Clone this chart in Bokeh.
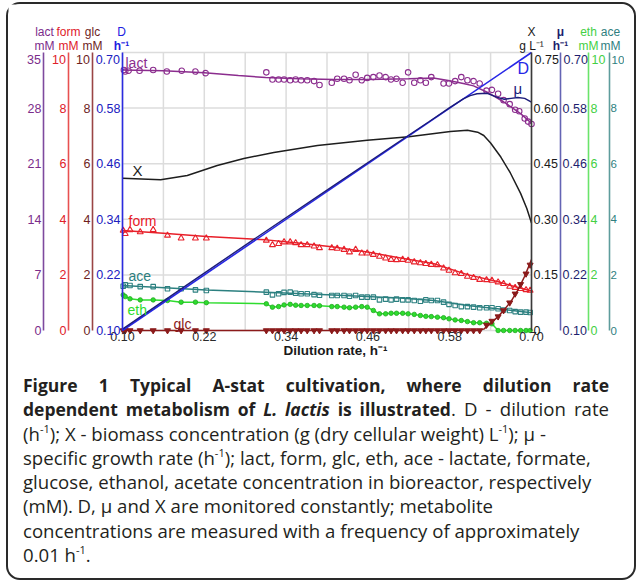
from bokeh.plotting import figure
from bokeh.models import Range1d, LinearAxis, FixedTicker, Label, Div
from bokeh.layouts import column
from bokeh.embed import file_html
from bokeh.resources import INLINE

# ---------------- data ----------------
x_ticks = [0.10, 0.22, 0.34, 0.46, 0.58, 0.70]
x_labels = ["0.10", "0.22", "0.34", "0.46", "0.58", "0.70"]
grid_x = [0.10, 0.16, 0.22, 0.28, 0.34, 0.40, 0.46, 0.52, 0.58, 0.64, 0.70]
D_ticks = [0.10, 0.22, 0.34, 0.46, 0.58, 0.70]
D_labels = ["0.10", "0.22", "0.34", "0.46", "0.58", "0.70"]
X_ticks = [0, 0.15, 0.30, 0.45, 0.60, 0.75]
X_labels = ["0", "0.15", "0.30", "0.45", "0.60", "0.75"]
lact_ticks = [0, 7, 14, 21, 28, 35]
lact_labels = ["0", "7", "14", "21", "28", "35"]
conc_ticks = [0, 2, 4, 6, 8, 10]
conc_labels = ["0", "2", "4", "6", "8", "10"]

# dilution rate (D = x)
D_line = [0.10, 0.70]

# specific growth rate
mu_D = [0.10, 0.20, 0.30, 0.40, 0.50, 0.55, 0.58, 0.60, 0.61, 0.62, 0.635, 0.65, 0.66, 0.67, 0.68, 0.69, 0.70]
mu_val = [0.103, 0.204, 0.304, 0.403, 0.502, 0.551, 0.581, 0.600, 0.607, 0.611, 0.612, 0.603, 0.599, 0.601, 0.603, 0.601, 0.593]

# biomass
X_D = [0.10, 0.156, 0.195, 0.239, 0.278, 0.322, 0.386, 0.459, 0.52, 0.581, 0.606, 0.621, 0.63, 0.64, 0.655, 0.669, 0.684, 0.693, 0.70]
X_val = [0.411, 0.407, 0.418, 0.445, 0.464, 0.480, 0.499, 0.513, 0.523, 0.537, 0.540, 0.535, 0.526, 0.506, 0.468, 0.425, 0.370, 0.330, 0.290]

# lactate (measured + fitted)
lact_D = [0.102, 0.104, 0.109, 0.125, 0.145, 0.165, 0.187, 0.207, 0.222,
          0.311, 0.320, 0.329, 0.337, 0.346, 0.354, 0.362, 0.371, 0.381, 0.389,
          0.407, 0.415, 0.425, 0.433, 0.442, 0.451, 0.459, 0.468, 0.477, 0.486,
          0.494, 0.502, 0.511, 0.519, 0.528, 0.537, 0.545, 0.553, 0.571, 0.579,
          0.588, 0.597, 0.606, 0.615, 0.624, 0.634, 0.642, 0.651, 0.659, 0.668,
          0.676, 0.682, 0.690, 0.695, 0.700]
lact_val = [32.8, 32.6, 32.7, 32.7, 32.8, 32.6, 32.7, 32.6, 32.4,
            32.5, 31.6, 31.6, 31.6, 31.5, 31.6, 31.5, 31.5, 31.4, 30.9,
            31.2, 31.7, 31.7, 31.5, 32.2, 31.5, 31.8, 31.9, 32.1, 31.9,
            31.6, 31.7, 31.2, 32.5, 31.2, 31.5, 31.2, 31.9, 31.1, 31.1,
            31.4, 31.9, 31.5, 31.4, 31.1, 30.2, 30.3, 29.8, 29.0, 28.5,
            27.8, 27.6, 26.7, 26.3, 26.0]
lact_fit_D = [0.10, 0.16, 0.22, 0.27, 0.31, 0.36, 0.41, 0.46, 0.52, 0.556, 0.58, 0.60, 0.615, 0.635, 0.659, 0.684, 0.70]
lact_fit = [32.8, 32.7, 32.45, 32.1, 31.85, 31.7, 31.6, 31.6, 31.7, 31.8, 31.45, 31.1, 30.8, 30.0, 28.8, 27.3, 26.1]

# sampling points of the other metabolites
met_D = [0.101, 0.104, 0.111, 0.126, 0.145, 0.166, 0.186, 0.207, 0.223,
         0.311, 0.320, 0.329, 0.337, 0.346, 0.354, 0.362, 0.371, 0.381, 0.389,
         0.407, 0.415, 0.425, 0.433, 0.442, 0.451, 0.459, 0.468, 0.477, 0.486,
         0.494, 0.502, 0.511, 0.519, 0.528, 0.537, 0.545, 0.553, 0.562, 0.571,
         0.579, 0.588, 0.597, 0.606, 0.615, 0.624, 0.634, 0.642, 0.651, 0.659,
         0.668, 0.676, 0.684, 0.692, 0.698]
form_val = [3.60, 3.48, 3.62, 3.54, 3.62, 3.42, 3.32, 3.32, 3.32,
            3.24, 3.08, 3.12, 3.18, 3.18, 3.15, 3.08, 3.08, 3.03, 2.97,
            2.97, 2.95, 2.91, 2.82, 2.91, 2.78, 2.78, 2.73, 2.66, 2.60,
            2.55, 2.54, 2.55, 2.52, 2.46, 2.43, 2.40, 2.37, 2.36, 2.24,
            2.16, 2.07, 2.04, 1.94, 1.90, 1.83, 1.82, 1.80, 1.74, 1.68,
            1.58, 1.54, 1.50, 1.46, 1.44]
form_fit_D = [0.10, 0.16, 0.223, 0.311, 0.361, 0.41, 0.459, 0.51, 0.557, 0.606, 0.65, 0.675, 0.70]
form_fit = [3.60, 3.50, 3.38, 3.26, 3.14, 3.00, 2.82, 2.60, 2.40, 2.01, 1.76, 1.58, 1.42]

ace_val = [1.59, 1.64, 1.62, 1.58, 1.58, 1.50, 1.50, 1.46, 1.44,
           1.38, 1.28, 1.32, 1.37, 1.38, 1.34, 1.32, 1.32, 1.29, 1.27,
           1.26, 1.26, 1.26, 1.23, 1.26, 1.20, 1.20, 1.20, 1.10, 1.13,
           1.10, 1.13, 1.10, 1.10, 1.08, 1.05, 1.10, 1.08, 1.08, 1.02,
           0.94, 0.90, 0.86, 0.86, 0.84, 0.82, 0.82, 0.82, 0.78, 0.74,
           0.72, 0.68, 0.66, 0.66, 0.65]
ace_fit_D = [0.10, 0.223, 0.311, 0.409, 0.507, 0.557, 0.606, 0.65, 0.70]
ace_fit = [1.62, 1.46, 1.38, 1.28, 1.17, 1.08, 0.90, 0.78, 0.64]

eth_val = [1.28, 1.22, 1.14, 1.10, 1.10, 1.08, 1.02, 1.02, 1.00,
           0.96, 0.84, 0.86, 0.92, 0.94, 0.91, 0.90, 0.90, 0.90, 0.89,
           0.86, 0.86, 0.84, 0.82, 0.84, 0.86, 0.84, 0.72, 0.60, 0.60,
           0.62, 0.62, 0.62, 0.60, 0.58, 0.54, 0.51, 0.50, 0.48, 0.46,
           0.42, 0.38, 0.36, 0.32, 0.28, 0.28, 0.26, 0.24, 0.0, 0.0,
           0.0, 0.0, 0.0, 0.0, 0.0]

glc_val = [0, 0, 0, 0, 0, 0, 0, 0, 0,
           0, 0, 0, 0, 0, 0, 0, 0, 0, 0,
           0, 0, 0, 0, 0, 0, 0, 0, 0, 0,
           0, 0, 0, 0, 0, 0, 0, 0, 0, 0,
           0, 0, 0, 0, 0, 0, 0.20, 0.34, 0.50, 0.72,
           1.00, 1.32, 1.66, 2.04, 2.36]
glc_fit_D = [0.10, 0.62, 0.63, 0.64, 0.65, 0.66, 0.67, 0.68, 0.69, 0.70]
glc_fit = [0, 0, 0.05, 0.25, 0.48, 0.75, 1.05, 1.45, 1.95, 2.55]

# ---------------- colours ----------------
LACT, LACT_AX, LACT_T = "#8B2D8E", "#7E4A9E", "#7B2D8B"
FORM, FORM_AX, FORM_T = "#E8202A", "#E85050", "#E0202A"
GLC, GLC_AX, GLC_T = "#8B1A1A", "#9A4545", "#6E1E1E"
DCOL, D_AX, D_T = "#2626E6", "#2B2BE0", "#2020C0"
XCOL, X_AX, X_T = "#1E1E1E", "#3A3A3A", "#1a1a1a"
MU, MU_AX, MU_T = "#1C1C7A", "#6464B4", "#1E1E6E"
ETH, ETH_AX, ETH_T = "#2EDC2E", "#6AE46A", "#44D044"
ACE, ACE_AX, ACE_T = "#2C8080", "#5E9C9C", "#2F7F7F"
GRID = "#DCDCDC"
FRAME = "#2a2a2a"
AXFONT = "Liberation Sans"
AXSIZE = "12.5px"
HDSIZE = "12px"

# ---------------- layout geometry (page pixels) ----------------
# The drawing origin of the figure lies 8 px up-left of its box.
OX, OY = 8, 4
W, H = 616, 361          # figure size (the frame fills the whole figure)
CAP_H = 203              # caption block height
PX_LO, PX_HI = 122, 531  # page x of D = 0.10 and D = 0.70
PY_LO, PY_HI = 330, 52   # page y of the lowest and highest tick of every y axis
TOP_SHIFT = 7            # top tick labels sit a little below their tick
ACE_X = 609              # page x of the acetate axis


def span(lo, hi, a_lo, a_hi, f_lo, f_hi):
    k = (hi - lo) / (a_hi - a_lo)
    return Range1d(lo + (f_lo - a_lo) * k, lo + (f_hi - a_lo) * k)


def yspan(ticks):
    return span(ticks[0], ticks[-1], PY_LO, PY_HI, OY + H, OY)


def xloc(page_x):
    return x_ticks[0] + (page_x - PX_LO) * (x_ticks[-1] - x_ticks[0]) / (PX_HI - PX_LO)


p = figure(width=W, height=H,
           x_range=span(x_ticks[0], x_ticks[-1], PX_LO, PX_HI, OX, OX + W),
           y_range=yspan(D_ticks),
           output_backend="svg", toolbar_location=None,
           x_axis_location=None, y_axis_location=None, min_border=0)
p.outline_line_color = None
p.background_fill_color = "white"
p.border_fill_color = "white"
p.grid.visible = False
p.extra_y_ranges = {"lact": yspan(lact_ticks), "form": yspan(conc_ticks),
                    "glc": yspan(conc_ticks), "X": yspan(X_ticks), "mu": yspan(D_ticks),
                    "eth": yspan(conc_ticks), "ace": yspan(conc_ticks),
                    "py": Range1d(OY + H, OY)}
p.extra_x_ranges = {"px": Range1d(OX, OX + W)}


def lab(text, x, y, color, size="13px", align="left", style="normal", font=AXFONT):
    p.add_layout(Label(x=x, y=y, x_range_name="px", y_range_name="py",
                       text=text, text_color=color, text_font_size=size,
                       text_align=align, text_baseline="middle",
                       text_font=font, text_font_style=style))


def add_axis(side, rng, ticks, labels, lab_color, line_color, page_x=None, standoff=2,
             size=AXSIZE):
    ax = LinearAxis(y_range_name=rng) if rng else LinearAxis()
    ax.bounds = (ticks[0], ticks[-1])
    if side == "below":
        ax.fixed_location = D_ticks[0]
        ax.ticker = FixedTicker(ticks=ticks)
        ax.major_label_overrides = dict(zip(ticks, labels))
    else:
        ax.fixed_location = xloc(page_x)
        # the top label is drawn slightly lower, as in the original
        ax.ticker = FixedTicker(ticks=ticks[:-1])
        ax.major_label_overrides = dict(zip(ticks[:-1], labels[:-1]))
        if side == "left":
            lab(labels[-1], page_x - standoff - 0.5, PY_HI + TOP_SHIFT, lab_color,
                size=size, align="right")
        else:
            lab(labels[-1], page_x + standoff + 1, PY_HI + TOP_SHIFT, lab_color,
                size=size, align="left")
    ax.axis_line_color = line_color
    ax.axis_line_width = 1.6
    ax.major_tick_line_color = None
    ax.minor_tick_line_color = None
    ax.major_tick_out = 0
    ax.major_tick_in = 0
    ax.minor_tick_out = 0
    ax.minor_tick_in = 0
    ax.major_label_text_color = lab_color
    ax.major_label_text_font = AXFONT
    ax.major_label_text_font_size = size
    ax.major_label_standoff = standoff
    p.add_layout(ax, side)
    return ax


# gridlines (drawn from the tick arrays)
p.segment(x0=grid_x, y0=[D_ticks[0]] * len(grid_x), x1=grid_x, y1=[D_ticks[-1]] * len(grid_x),
          line_color=GRID, line_width=1.5)
p.segment(x0=[x_ticks[0]] * len(D_ticks), y0=D_ticks, x1=[x_ticks[-1]] * len(D_ticks), y1=D_ticks,
          line_color=GRID, line_width=1.5)

# x axis
add_axis("below", None, x_ticks, x_labels, "#2a2a2a", None, standoff=1)
# left axes
add_axis("left", None, D_ticks, D_labels, D_T, D_AX, 122)
add_axis("left", "glc", conc_ticks, conc_labels, GLC_T, GLC_AX, 92)
add_axis("left", "form", conc_ticks, conc_labels, FORM_T, FORM_AX, 68)
add_axis("left", "lact", lact_ticks, lact_labels, LACT_T, LACT_AX, 43)
# right axes
add_axis("right", "X", X_ticks, X_labels, X_T, X_AX, 531)
add_axis("right", "mu", D_ticks, D_labels, MU_T, MU_AX, 560)
add_axis("right", "eth", conc_ticks, conc_labels, ETH_T, ETH_AX, 588)
add_axis("right", "ace", conc_ticks, conc_labels, ACE_T, ACE_AX, ACE_X, standoff=1,
         size="11.5px")

# ---------------- series ----------------
p.line(X_D, X_val, y_range_name="X", line_color=XCOL, line_width=1.5)
p.line(lact_fit_D, lact_fit, y_range_name="lact", line_color=LACT, line_width=1.5)
p.scatter(lact_D, lact_val, y_range_name="lact", marker="circle", size=5.5,
          fill_color=None, line_color=LACT, line_width=1.1)
p.line(form_fit_D, form_fit, y_range_name="form", line_color=FORM, line_width=1.5)
p.scatter(met_D, form_val, y_range_name="form", marker="triangle", size=6,
          fill_color=None, line_color=FORM, line_width=1.1)
p.line(ace_fit_D, ace_fit, y_range_name="ace", line_color=ACE, line_width=1.5)
p.scatter(met_D, ace_val, y_range_name="ace", marker="square", size=4.5,
          fill_color=None, line_color=ACE, line_width=1.1)
p.line(met_D, eth_val, y_range_name="eth", line_color=ETH, line_width=1.5)
p.scatter(met_D, eth_val, y_range_name="eth", marker="circle", size=4.5,
          fill_color=ETH, line_color="#22AA22", line_width=0.8)
p.line(glc_fit_D, glc_fit, y_range_name="glc", line_color=GLC, line_width=1.5)
p.scatter(met_D, glc_val, y_range_name="glc", marker="inverted_triangle", size=6,
          fill_color=GLC, line_color=GLC, line_width=1)
p.line(D_line, D_line, line_color=DCOL, line_width=1.6)
p.line(mu_D, mu_val, y_range_name="mu", line_color=MU, line_width=1.4)

# ---------------- texts (page pixel positions) ----------------
SUP = "h\u207b\u00b9"
for t1, t2, cx, col, st1, st2 in [("lact", "mM", 44, LACT_T, "normal", "normal"),
                                  ("form", "mM", 68, FORM_T, "normal", "normal"),
                                  ("glc", "mM", 92, GLC_T, "normal", "normal"),
                                  ("D", SUP, 121, "#2020E0", "normal", "bold"),
                                  ("X", "g L\u207b\u00b9", 531, X_T, "normal", "normal"),
                                  ("\u03bc", SUP, 560, MU_T, "bold", "bold"),
                                  ("eth", "mM", 588, ETH_T, "normal", "normal"),
                                  ("ace", "mM", 610, ACE_T, "normal", "normal")]:
    lab(t1, cx, 31, col, size=HDSIZE, align="center", style=st1)
    lab(t2, cx, 45, col, size=HDSIZE, align="center", style=st2)

# in-plot series names
lab("lact", 125, 62, LACT, size="14px")
lab("X", 132, 170, XCOL, size="15px")
lab("form", 128, 220, FORM, size="14px")
lab("ace", 128, 275, ACE, size="14px")
lab("eth", 127, 309, ETH, size="14px")
lab("glc", 173, 323, GLC, size="14px")
lab("D", 517, 68, DCOL, size="16px")
lab("\u03bc", 513, 88, MU, size="15px")

# x axis title
lab("Dilution rate, " + SUP, 335, 350, "#1a1a1a", size="13.5px", align="center", style="bold")

# ---------------- caption ----------------
sup = '<sup style="font-size:11px;vertical-align:8px;line-height:0">-1</sup>'
B = '<b style="font-size:17.5px">'
lines = [
    ("j", B + "Figure 1 Typical A-stat cultivation, where dilution rate</b>"),
    ("j", B + "dependent metabolism of <i>L. lactis</i> is illustrated</b>. D - dilution rate"),
    ("l", "(h" + sup + "); X - biomass concentration (g (dry cellular weight) L" + sup + "); \u03bc -"),
    ("l", "specific growth rate (h" + sup + "); lact, form, glc, eth, ace - lactate, formate,"),
    ("l", "glucose, ethanol, acetate concentration in bioreactor, respectively"),
    ("l", "(mM). D, \u03bc and X are monitored constantly; metabolite"),
    ("l", "concentrations are measured with a frequency of approximately"),
    ("l", "0.01 h" + sup + "."),
]
rows = []
for kind, txt in lines:
    if kind == "j":
        stl = "text-align:justify;text-align-last:justify;white-space:nowrap;"
    else:
        stl = "text-align:left;white-space:nowrap;"
    rows.append('<div style="height:24.3px;line-height:24.3px;%s">%s</div>' % (stl, txt))
html = ('<div style="font-family:\'Open Sans\';font-size:18.6px;color:#231f20;'
        'margin-left:10px;padding-top:3px;width:586px;box-sizing:border-box;">'
        + "".join(rows) + "</div>")
cap = Div(text=html, width=W, height=CAP_H)

layout = column(p, cap, spacing=0)
layout.margin = (2, 0, 0, 6)
layout.styles = {"border": "2px solid %s" % FRAME, "border-radius": "14px",
                 "background-color": "white"}

open("out.html", "w").write(file_html(layout, INLINE))
